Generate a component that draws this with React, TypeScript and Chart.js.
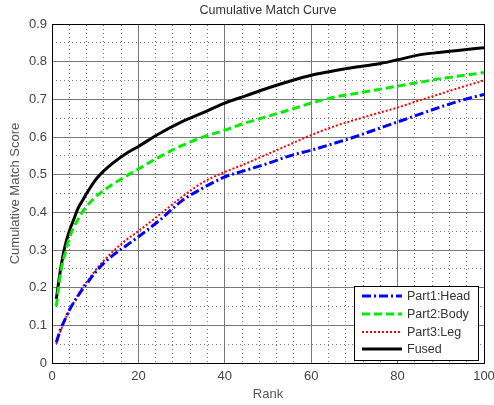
import React, { useEffect, useRef } from "react";
import { Chart, registerables } from "chart.js";

Chart.register(...registerables);

const ranks = [1, 2, 3, 4, 5, 6, 7, 8, 10, 12, 14, 17, 20, 25, 30, 35, 40, 45, 50, 55, 60, 65, 70, 75, 80, 85, 90, 95, 100];
const headScores = [0.055, 0.09, 0.115, 0.14, 0.16, 0.178, 0.195, 0.21, 0.24, 0.265, 0.285, 0.31, 0.335, 0.38, 0.43, 0.465, 0.494, 0.512, 0.53, 0.55, 0.565, 0.582, 0.6, 0.62, 0.64, 0.66, 0.68, 0.698, 0.713];
const bodyScores = [0.15, 0.24, 0.29, 0.33, 0.36, 0.38, 0.4, 0.415, 0.44, 0.458, 0.474, 0.495, 0.515, 0.548, 0.577, 0.6, 0.618, 0.638, 0.655, 0.672, 0.69, 0.705, 0.715, 0.725, 0.735, 0.745, 0.755, 0.763, 0.771];
const legScores = [0.05, 0.085, 0.115, 0.14, 0.16, 0.18, 0.2, 0.215, 0.245, 0.272, 0.295, 0.325, 0.35, 0.395, 0.44, 0.48, 0.507, 0.53, 0.555, 0.58, 0.605, 0.627, 0.645, 0.662, 0.678, 0.697, 0.715, 0.733, 0.75];
const fusedScores = [0.17, 0.25, 0.31, 0.35, 0.38, 0.41, 0.43, 0.45, 0.485, 0.51, 0.53, 0.555, 0.575, 0.61, 0.64, 0.665, 0.69, 0.71, 0.73, 0.748, 0.764, 0.775, 0.785, 0.793, 0.805, 0.818, 0.825, 0.831, 0.837];
const seriesLabels = ["Part1:Head", "Part2:Body", "Part3:Leg", "Fused"];

const FONT = "'Liberation Sans', Arial, Helvetica, sans-serif";

const legendPlugin = {
  id: "boxLegend",
  afterDatasetsDraw(chart: any) {
    const { ctx, chartArea } = chart;
    const w = 124;
    const h = 74;
    const right = Math.round(chartArea.right - 6);
    const bottom = Math.round(chartArea.bottom - 3);
    const left = right - w;
    const top = bottom - h;
    ctx.save();
    ctx.fillStyle = "#fff";
    ctx.fillRect(left, top, w, h);
    ctx.strokeStyle = "#000";
    ctx.lineWidth = 1;
    ctx.setLineDash([]);
    ctx.strokeRect(left + 0.5, top + 0.5, w, h);
    chart.data.datasets.forEach((ds: any, i: number) => {
      const y = Math.round(top + 10 + i * 17.8);
      ctx.beginPath();
      ctx.strokeStyle = ds.borderColor;
      ctx.lineWidth = ds.borderWidth;
      ctx.setLineDash(ds.borderDash || []);
      ctx.moveTo(left + 8, y);
      ctx.lineTo(left + 48, y);
      ctx.stroke();
      ctx.setLineDash([]);
      ctx.fillStyle = "#333";
      ctx.font = `12.5px ${FONT}`;
      ctx.textBaseline = "middle";
      ctx.textAlign = "left";
      ctx.fillText(ds.label, left + 53, y + 1);
    });
    ctx.restore();
  },
};

function isMultiple(v: number, step: number) {
  const r = v / step;
  return Math.abs(r - Math.round(r)) < 1e-6;
}

export default function App() {
  const ref = useRef<HTMLCanvasElement | null>(null);
  useEffect(() => {
    document.body.style.margin = "0";
    const canvas = ref.current!;
    const toPts = (arr: number[]) => ranks.map((r, i) => ({ x: r, y: arr[i] }));
    const chart = new Chart(canvas, {
      type: "line",
      data: {
        datasets: [
          { label: seriesLabels[0], data: toPts(headScores), borderColor: "#0000ff", borderWidth: 3, borderDash: [9, 3, 2, 3], pointRadius: 0, cubicInterpolationMode: "monotone", xAxisID: "x", yAxisID: "y" },
          { label: seriesLabels[1], data: toPts(bodyScores), borderColor: "#00ee00", borderWidth: 3, borderDash: [8, 4], pointRadius: 0, cubicInterpolationMode: "monotone", xAxisID: "x", yAxisID: "y" },
          { label: seriesLabels[2], data: toPts(legScores), borderColor: "#ff0000", borderWidth: 2, borderDash: [2, 2], pointRadius: 0, cubicInterpolationMode: "monotone", xAxisID: "x", yAxisID: "y" },
          { label: seriesLabels[3], data: toPts(fusedScores), borderColor: "#000000", borderWidth: 3, borderDash: [], pointRadius: 0, cubicInterpolationMode: "monotone", xAxisID: "x", yAxisID: "y" },
        ],
      },
      options: {
        responsive: false,
        animation: false,
        devicePixelRatio: 1,
        layout: { padding: { left: 0, right: 10, top: 0, bottom: 0 } },
        plugins: { legend: { display: false }, title: { display: false }, tooltip: { enabled: false } },
        scales: {
          xMinor: {
            type: "linear",
            position: "top",
            min: 0,
            max: 100,
            ticks: { display: false, stepSize: 4, maxTicksLimit: 1000 },
            grid: { drawTicks: false, color: (c: any) => (isMultiple(c.tick.value, 20) ? "rgba(0,0,0,0)" : "#777") },
            border: { display: true, color: "#000", width: 1, dash: [1, 3] },
            title: { display: true, text: "Cumulative Match Curve", color: "#333", font: { family: FONT, size: 12.5 }, padding: { top: 3, bottom: 0 } },
            afterFit: (s: any) => { s.height = 24; s.paddingLeft = 0; s.paddingRight = 0; },
          },
          yMinor: {
            type: "linear",
            position: "right",
            min: 0,
            max: 0.9,
            ticks: { display: false, stepSize: 0.05, maxTicksLimit: 1000 },
            grid: { drawTicks: false, color: (c: any) => (isMultiple(c.tick.value, 0.1) ? "rgba(0,0,0,0)" : "#777") },
            border: { display: true, color: "#000", width: 1, dash: [1, 3] },
            afterFit: (s: any) => { s.width = 0; s.paddingTop = 0; s.paddingBottom = 0; },
          },
          x: {
            type: "linear",
            position: "bottom",
            min: 0,
            max: 100,
            ticks: { stepSize: 20, autoSkip: false, maxRotation: 0, color: "#444", padding: 6, font: { family: FONT, size: 13 } },
            grid: { drawTicks: false, color: "#777", lineWidth: 1 },
            border: { display: true, color: "#000", width: 1 },
            title: { display: true, text: "Rank", color: "#555", font: { family: FONT, size: 13 }, padding: { top: 0, bottom: 3 } },
            afterFit: (s: any) => { s.height = 42; s.paddingLeft = 0; s.paddingRight = 0; },
          },
          y: {
            type: "linear",
            position: "left",
            min: 0,
            max: 0.9,
            ticks: {
              stepSize: 0.1,
              color: "#444",
              padding: 5,
              font: { family: FONT, size: 13 },
              callback: (v: any) => String(Number(Number(v).toFixed(1))),
            },
            grid: { drawTicks: false, color: "#777", lineWidth: 1 },
            border: { display: true, color: "#000", width: 1 },
            title: { display: true, text: "Cumulative Match Score", color: "#555", font: { family: FONT, size: 13 }, padding: { top: 8, bottom: 0 } },
            afterFit: (s: any) => { s.width = 52; },
          },
        },
      } as any,
      plugins: [legendPlugin],
    });
    return () => chart.destroy();
  }, []);
  return (
    <div style={{ width: 494, height: 405 }}>
      <canvas ref={ref} width={494} height={405} style={{ display: "block" }} />
    </div>
  );
}
